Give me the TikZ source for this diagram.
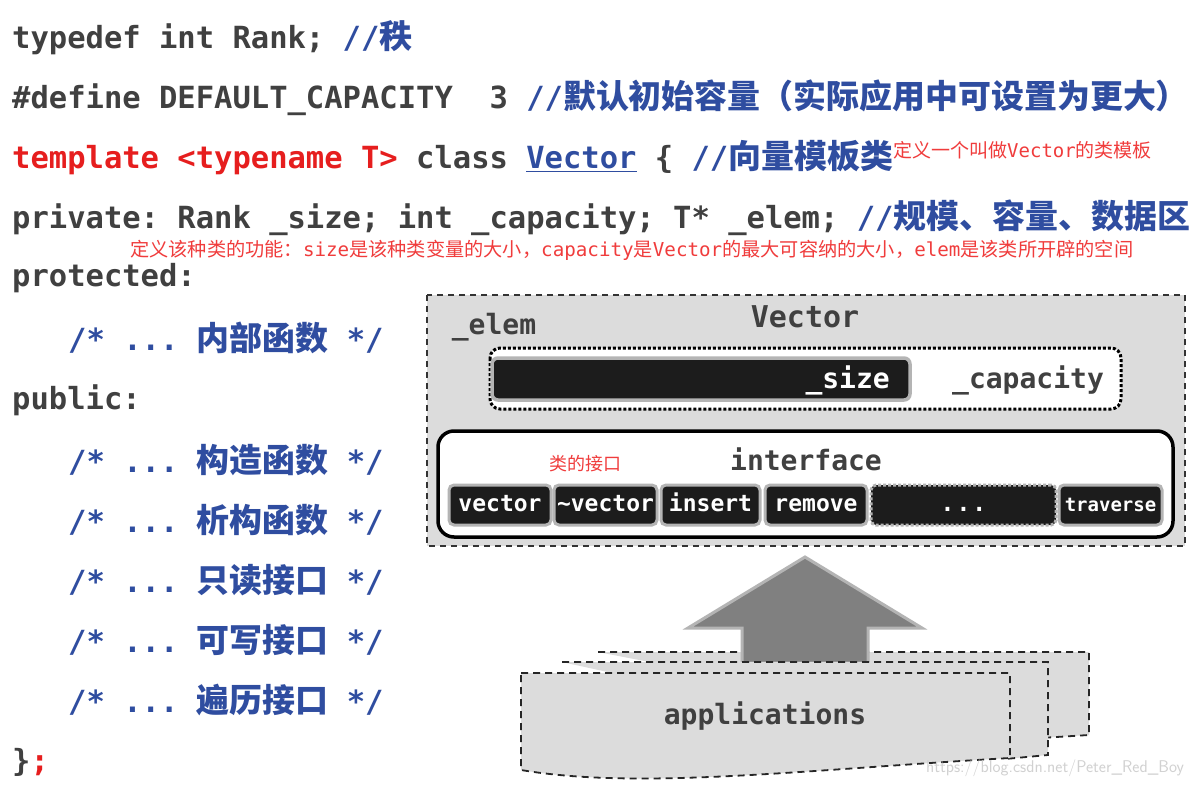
\documentclass[tikz,border=0pt]{standalone}
\usepackage{fontspec}
\setmonofont{DejaVu Sans Mono}
\newfontfamily\cjk{Noto Sans CJK SC}
\newfontfamily\cjkbig[Scale=1.08]{Noto Sans CJK SC}
\definecolor{codegray}{RGB}{64,64,64}
\definecolor{codeblue}{RGB}{47,77,160}
\definecolor{codered}{RGB}{230,30,30}
\definecolor{annred}{RGB}{240,60,60}
\definecolor{boxgray}{RGB}{220,220,220}
\definecolor{btnblack}{RGB}{28,28,28}
\definecolor{rimgray}{RGB}{180,180,180}
\newcommand{\zh}[1]{{\cjkbig\bfseries #1}}
\newcommand{\cm}[1]{\textcolor{codeblue}{\ttfamily\bfseries //\zh{#1}}}
\tikzset{
  code/.style={anchor=west,inner sep=0pt,font=\fontsize{30.5}{32}\selectfont\ttfamily\bfseries,text=codegray},
  ann/.style={anchor=west,inner sep=0pt,text=annred},
  dlabel/.style={inner sep=0pt,font=\fontsize{28}{30}\selectfont\ttfamily\bfseries,text=codegray},
  btn/.style={draw=rimgray,line width=3pt,fill=btnblack,rounded corners=5pt,text=white,text height=16pt,text depth=4pt,font=\fontsize{23}{25}\selectfont\ttfamily\bfseries},
  sheet/.style={draw=black!85,fill=boxgray,dashed,line width=1.8pt,dash pattern=on 7pt off 5pt},
}
\begin{document}
\begin{tikzpicture}[x=1pt,y=-1pt]
\useasboundingbox (0,0) rectangle (1194,787);
\fill[white] (0,0) rectangle (1194,787);
% code lines
\node[code] (l1) at (12,38) {typedef int Rank; \cm{秩}};
\node[code] (l2) at (12,98) {\#define DEFAULT\_CAPACITY\ \ 3 \cm{默认初始容量（实际应用中可设置为更大）}};
\node[code] (l3) at (12,158) {\textcolor{codered}{template <typename T>} class \textcolor{codeblue}{\underline{Vector}} \{ \cm{向量模板类}};
\node[code] (l4) at (12,218) {private: Rank \_size; int \_capacity; T* \_elem; \cm{规模、容量、数据区}};
\node[code] (l5) at (12,278) {protected:};
\node[code,text=codeblue] (l6) at (68,338) {/* ... \zh{内部函数} */};
\node[code] (l7) at (12,400) {public:};
\node[code,text=codeblue] (l8) at (68,460) {/* ... \zh{构造函数} */};
\node[code,text=codeblue] (l9) at (68,520) {/* ... \zh{析构函数} */};
\node[code,text=codeblue] (l10) at (68,580) {/* ... \zh{只读接口} */};
\node[code,text=codeblue] (l11) at (68,640) {/* ... \zh{可写接口} */};
\node[code,text=codeblue] (l12) at (68,700) {/* ... \zh{遍历接口} */};
\node[code] (l13) at (12,762) {\}\textcolor{codered}{;}};
% annotations
\node[ann,font=\fontsize{19}{20}\selectfont\cjk] (a1) at (893,150) {定义一个叫做{\ttfamily Vector}的类模板};
\node[ann,font=\fontsize{19.2}{20}\selectfont\cjk] (a2) at (130,250) {定义该种类的功能：{\ttfamily size}是该种类变量的大小，{\ttfamily capacity}是{\ttfamily Vector}的最大可容纳的大小，{\ttfamily elem}是该类所开辟的空间};
% vector box
\draw[draw=black!80,fill=boxgray,line width=1.5pt,dash pattern=on 6pt off 5pt] (427,295) rectangle (1185,546);
\node[dlabel,font=\fontsize{30}{32}\selectfont\ttfamily\bfseries] (vt) at (805,317) {Vector};
\node[dlabel] (el) at (494,327) {\_elem};
\draw[fill=white,line width=3pt,dotted,rounded corners=10pt] (490,348) rectangle (1121,409);
\draw[draw=rimgray,line width=3.5pt,fill=btnblack,rounded corners=6pt] (492,358) rectangle (910,400);
\node[dlabel,text=white,anchor=east] (sz) at (890,380) {\_size};
\node[dlabel] (cap) at (1028,380) {\_capacity};
\draw[fill=white,line width=3.5pt,rounded corners=16pt] (438,431) rectangle (1173,537);
\node[dlabel] (itf) at (806,459) {interface};
\node[inner sep=0pt,text=annred,font=\fontsize{18}{20}\selectfont\cjk] (a3) at (585,464) {类的接口};
\node[btn,minimum width=102pt,minimum height=40pt] (b1) at (500,505) {vector};
\node[btn,minimum width=103pt,minimum height=40pt,inner sep=0pt] (b2) at (605.5,505) {\textasciitilde vector};
\node[btn,minimum width=99pt,minimum height=40pt] (b3) at (710.5,505) {insert};
\node[btn,minimum width=102pt,minimum height=40pt] (b4) at (816,505) {remove};
\node[btn,dashed,dash pattern=on 3pt off 2pt,minimum width=185pt,minimum height=40pt] (b5) at (963.5,505) {.\kern2pt.\kern2pt.};
\node[btn,minimum width=103pt,minimum height=40pt,inner sep=0pt,font=\fontsize{19}{21}\selectfont\ttfamily\bfseries] (b6) at (1110.5,505) {traverse};
% applications
\draw[sheet] (598,652) -- (1089,652) -- (1089,735) -- (1040,738);
\draw[fill=black!50,draw=rimgray,line width=3pt] (805,557) -- (922,628) -- (868,628) -- (868,663) -- (742,663) -- (742,628) -- (688,628) -- cycle;
\draw[sheet] (562,662) -- (1048,662) -- (1048,755) -- (1005,759);
\draw[sheet] (521,673) -- (1010,673) -- (1010,758) .. controls (800,770) and (640,790) .. (521,770) -- cycle;
\node[dlabel] (app) at (765,716) {applications};
\node[inner sep=0pt,text=black!18,font=\fontsize{17}{19}\selectfont\sffamily] (wm) at (1055,768) {https://blog.csdn.net/Peter\_Red\_Boy};
\end{tikzpicture}
\end{document}
